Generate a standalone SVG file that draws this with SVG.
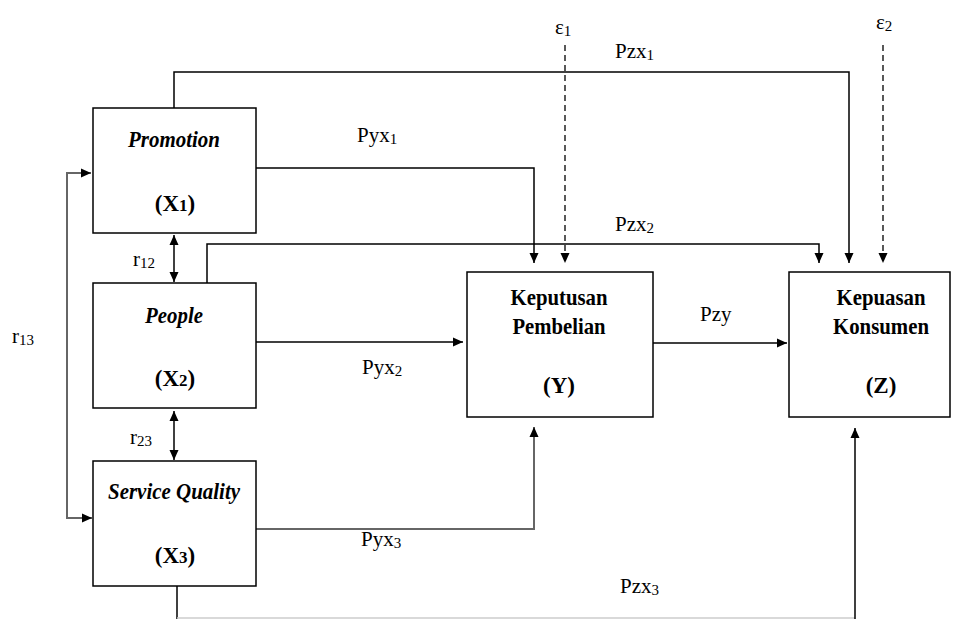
<svg xmlns="http://www.w3.org/2000/svg" width="963" height="619" viewBox="0 0 963 619">
<defs>
<marker id="ah" viewBox="0 0 10 10" refX="10" refY="5" markerWidth="10" markerHeight="10" markerUnits="userSpaceOnUse" orient="auto-start-reverse">
<path d="M0,0.5 L10,5 L0,9.5 z" fill="#000"/>
</marker>
<style>
.box{fill:#fff;stroke:#000;stroke-width:1.5}
.ln{fill:none;stroke:#000;stroke-width:1.5}
.gl{fill:none;stroke:#666;stroke-width:2}
.dash{fill:none;stroke:#000;stroke-width:1.3;stroke-dasharray:6,4}
text{font-family:"Liberation Serif","Times New Roman",serif;fill:#000}
.bi{font-size:23px;font-weight:bold;font-style:italic;text-anchor:middle}
.b{font-size:23px;font-weight:bold;text-anchor:middle}
.lab{font-size:21px}
.sub{font-size:15px}
.bs{font-size:17px;font-weight:bold}
</style>
</defs>
<rect width="963" height="619" fill="#fff"/>
<g id="connectors">
<polyline class="ln" points="174,108 174,72 849,72 849,263" marker-end="url(#ah)"/>
<polyline class="ln" points="256,168 534,168 534,263" marker-end="url(#ah)"/>
<polyline class="ln" points="207,283 207,244 819,244 819,263" marker-end="url(#ah)"/>
<line class="dash" x1="565" y1="45" x2="565" y2="263" marker-end="url(#ah)"/>
<line class="dash" x1="883" y1="45" x2="883" y2="263" marker-end="url(#ah)"/>
<line class="ln" x1="256" y1="342" x2="463" y2="342" marker-end="url(#ah)"/>
<line class="ln" x1="653" y1="343" x2="787" y2="343" marker-end="url(#ah)"/>
<polyline class="gl" points="256,529 534,529 534,427" marker-end="url(#ah)"/>
<polyline class="ln" points="177,586 177,619"/>
<line x1="177" y1="618" x2="855" y2="618" stroke="#ccc" stroke-width="1.5"/>
<polyline class="ln" points="855,619 855,428" marker-end="url(#ah)"/>
<line class="ln" x1="174" y1="235" x2="174" y2="282" marker-start="url(#ah)" marker-end="url(#ah)"/>
<line class="ln" x1="174" y1="411" x2="174" y2="460" marker-start="url(#ah)" marker-end="url(#ah)"/>
<polyline class="gl" points="91,173 67,173 67,518 92,518" marker-start="url(#ah)" marker-end="url(#ah)" stroke="#444" stroke-width="1.8"/>
</g>
<g id="x1" font-family="Liberation Serif, serif">
<rect class="box" x="93" y="108" width="163" height="125"/>
<text class="bi" x="174" y="147" textLength="92" lengthAdjust="spacingAndGlyphs">Promotion</text>
<text class="b" x="175" y="211">(X<tspan class="bs">1</tspan>)</text>
</g>
<g id="x2" font-family="Liberation Serif, serif">
<rect class="box" x="93" y="283" width="163" height="125"/>
<text class="bi" x="174" y="323" textLength="58" lengthAdjust="spacingAndGlyphs">People</text>
<text class="b" x="175" y="386">(X<tspan class="bs">2</tspan>)</text>
</g>
<g id="x3" font-family="Liberation Serif, serif">
<rect class="box" x="93" y="461" width="163" height="125"/>
<text class="bi" x="174" y="499" textLength="132" lengthAdjust="spacingAndGlyphs">Service Quality</text>
<text class="b" x="175" y="563">(X<tspan class="bs">3</tspan>)</text>
</g>
<g id="y" font-family="Liberation Serif, serif">
<rect class="box" x="467" y="272" width="186" height="145"/>
<text class="b" x="559" y="305" textLength="97" lengthAdjust="spacingAndGlyphs">Keputusan</text>
<text class="b" x="559" y="334" textLength="93" lengthAdjust="spacingAndGlyphs">Pembelian</text>
<text class="b" x="559" y="393">(Y)</text>
</g>
<g id="z" font-family="Liberation Serif, serif">
<rect class="box" x="789" y="272" width="161" height="145"/>
<text class="b" x="881" y="305" textLength="89" lengthAdjust="spacingAndGlyphs">Kepuasan</text>
<text class="b" x="881" y="334" textLength="96" lengthAdjust="spacingAndGlyphs">Konsumen</text>
<text class="b" x="881" y="393">(Z)</text>
</g>
<g id="labels" class="lab" font-family="Liberation Serif, serif">
<text x="555" y="34">ε<tspan class="sub" dy="2">1</tspan></text>
<text x="876" y="29">ε<tspan class="sub" dy="2">2</tspan></text>
<text x="615" y="58">Pzx<tspan class="sub" dy="2">1</tspan></text>
<text x="357" y="142">Pyx<tspan class="sub" dy="2">1</tspan></text>
<text x="615" y="231">Pzx<tspan class="sub" dy="2">2</tspan></text>
<text x="700" y="321">Pzy</text>
<text x="362" y="374">Pyx<tspan class="sub" dy="2">2</tspan></text>
<text x="361" y="546">Pyx<tspan class="sub" dy="2">3</tspan></text>
<text x="620" y="593">Pzx<tspan class="sub" dy="2">3</tspan></text>
<text x="133" y="266">r<tspan class="sub" dy="2">12</tspan></text>
<text x="130" y="444">r<tspan class="sub" dy="2">23</tspan></text>
<text x="12" y="343">r<tspan class="sub" dy="2">13</tspan></text>
</g>
</svg>
